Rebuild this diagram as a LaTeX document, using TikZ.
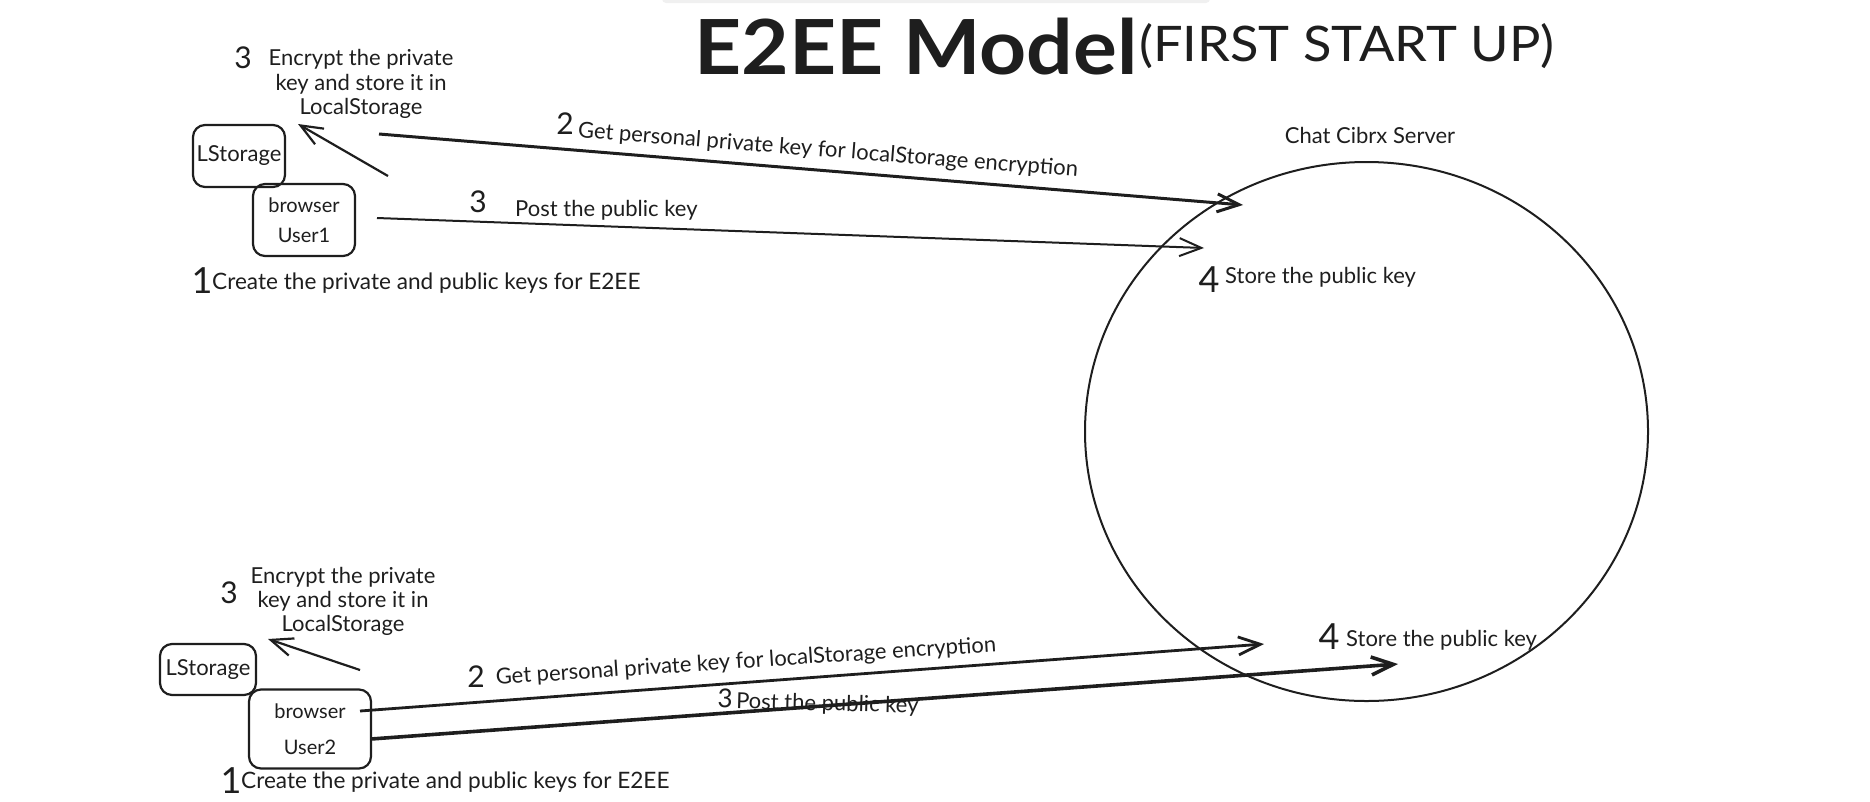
\documentclass[tikz,border=0pt]{standalone}
\usepackage{fontspec}
\usepackage{graphicx}
\setmainfont{Lato}
\usetikzlibrary{arrows.meta,shapes.geometric}
\definecolor{ink}{HTML}{1E1E1E}
\begin{document}
\begin{tikzpicture}[x=1pt,y=-1pt,
  txt/.style={font=\fontsize{22}{26}\selectfont, inner sep=0pt, text=ink},
  num/.style={font=\fontsize{30}{30}\selectfont, inner sep=0pt, text=ink},
  bignum/.style={font=\fontsize{36}{36}\selectfont, inner sep=0pt, text=ink},
  boxn/.style={draw=ink, line width=2.2pt, rounded corners=12pt, inner sep=0pt, align=center, text=ink},
  conn/.style={draw=ink, line width=2.2pt, -{Straight Barb[length=22pt,width=18pt]}},
  thick2/.style={line width=3pt},
  thick3/.style={line width=3.6pt}]
\useasboundingbox (0,0) rectangle (1870,801);
\fill[gray!12, rounded corners=4pt] (662,-10) rectangle (1210,3);

% title
\node[inner sep=0pt, anchor=base west, font=\fontsize{76}{76}\selectfont\bfseries, text=ink] (title) at (694,74) {\scalebox{1.08}[1]{E2EE Model}};
\node[inner sep=0pt, anchor=base west, font=\fontsize{49}{49}\selectfont, text=ink] (subtitle) at (1139,61) {\scalebox{1.07}[1]{(FIRST START UP)}};

% server
\node[draw=ink, line width=2pt, ellipse, minimum width=563pt, minimum height=539pt, inner sep=0pt] (srv) at (1366.5,431.5) {};
\node[txt] (srvlbl) at (1370,135) {Chat Cibrx Server};
\node[bignum] (n4a) at (1209,280) {4};
\node[txt, anchor=west] (t4a) at (1225,277) {Store the public key};
\node[bignum] (n4b) at (1329,637) {4};
\node[txt, anchor=west] (t4b) at (1346,640) {Store the public key};

% user 1
\node[boxn, minimum width=92pt, minimum height=62pt, font=\fontsize{22}{26}\selectfont] (ls1) at (239,156) {LStorage};
\node[boxn, minimum width=102pt, minimum height=72pt, font=\fontsize{20}{30}\selectfont] (br1) at (304,220) {browser\\User1};
\node[num] (n3a) at (243,58) {3};
\node[txt, align=center, font=\fontsize{22}{24.5}\selectfont] (t3a) at (361,84) {Encrypt the private\\key and store it in\\LocalStorage};
\node[bignum] (n1a) at (202,281) {1};
\node[txt, anchor=west, font=\fontsize{22.6}{26}\selectfont] (t1a) at (212,283) {Create the private and public keys for E2EE};

\coordinate (e1s) at (388,176);
\coordinate (e1e) at (298,124);
\draw[conn] (e1s) -- (e1e);

\coordinate (g1s) at (379,134);
\coordinate (g1e) at (1243,205);
\draw[conn, thick2] (g1s) -- (g1e);
\node[num] (n2a) at (565,124) {2};
\node[txt, rotate=-4.5] (t2a) at (828,151) {Get personal private key for localStorage encryption};

\coordinate (p1s) at (377,218);
\coordinate (p1e) at (1204,248);
\draw[conn, line width=2pt] (p1s) -- (p1e);
\node[num] (n3p) at (478,202) {3};
\node[txt, anchor=west] (t3p) at (515,210) {Post the public key};

% user 2
\node[boxn, minimum width=96pt, minimum height=51pt, font=\fontsize{22}{26}\selectfont] (ls2) at (208,669.5) {LStorage};
\node[boxn, minimum width=122pt, minimum height=79pt, font=\fontsize{20}{36}\selectfont] (br2) at (310,729) {browser\\User2};
\node[num] (n3b) at (229,593) {3};
\node[txt, align=center, font=\fontsize{22}{24}\selectfont] (t3b) at (343,601) {Encrypt the private\\key and store it in\\LocalStorage};
\node[bignum] (n1b) at (231,781) {1};
\node[txt, anchor=west, font=\fontsize{22.6}{26}\selectfont] (t1b) at (241,782) {Create the private and public keys for E2EE};

\coordinate (e2s) at (360,670);
\coordinate (e2e) at (268,639);
\draw[conn] (e2s) -- (e2e);

\coordinate (g2s) at (360,711);
\coordinate (g2e) at (1264,644);
\draw[conn, line width=2.8pt] (g2s) -- (g2e);
\node[num] (n2b) at (476,677) {2};
\node[txt, rotate=3.8] (t2b) at (746,662) {Get personal private key for localStorage encryption};

\coordinate (p2s) at (371,739);
\coordinate (p2e) at (1398,664);
\draw[conn, thick3] (p2s) -- (p2e);
\node[txt, rotate=-1.5] (t3q) at (818,703) {\fontsize{26}{26}\selectfont 3\fontsize{22}{26}\selectfont\,Post the public key};
\end{tikzpicture}
\end{document}
